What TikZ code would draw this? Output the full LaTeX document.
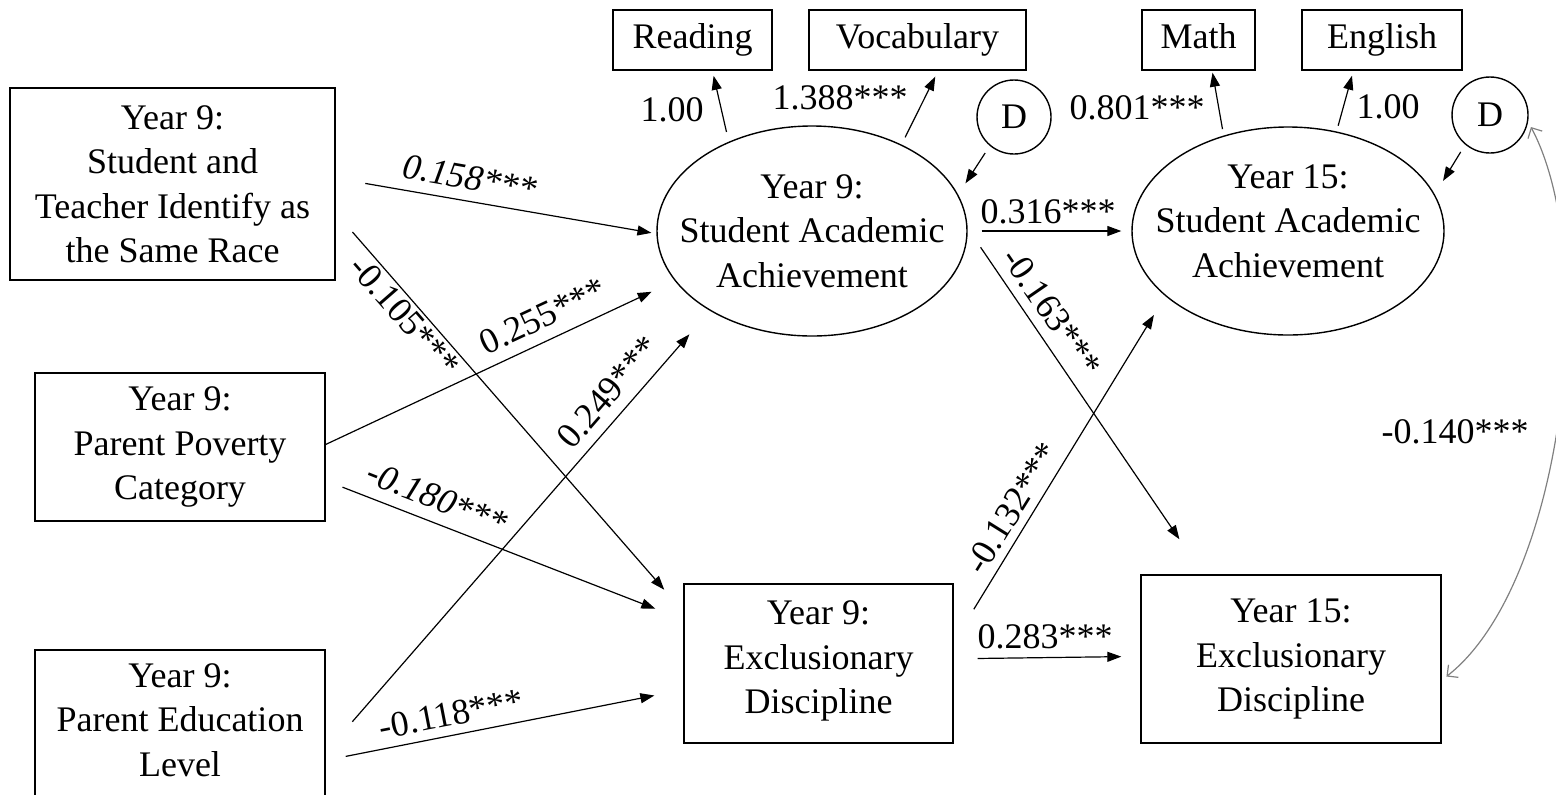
\documentclass[tikz,border=0pt]{standalone}
\usepackage{fontspec}
\setmainfont{Liberation Serif}
\usetikzlibrary{positioning, arrows.meta, shapes.geometric}

\begin{document}
\begin{tikzpicture}[x=0.5pt, y=-0.5pt,
  font=\fontsize{18}{22.25}\selectfont,
  ital/.style={font=\fontsize{18}{22.25}\selectfont\itshape},
  box/.style={draw, line width=0.7pt, align=center, inner sep=0pt},
  ind/.style={box, minimum height=30pt, text depth=4pt},
  latent/.style={draw, ellipse, line width=0.7pt, align=center, inner xsep=-12pt, inner ysep=0pt},
  err/.style={draw, circle, line width=0.7pt, inner sep=0pt, minimum size=37pt},
  arr/.style={-{Triangle[length=7pt,width=5pt]}, line width=0.6pt},
  coef/.style={inner sep=0pt},
  cov/.style={{Straight Barb[length=4pt]}-{Straight Barb[length=4pt]}, draw=gray, line width=0.6pt}]
\useasboundingbox (0,0) rectangle (1556,794);

% Year 9 predictors
\node[box, minimum width=162.5pt, minimum height=96pt] (race) at (172.5,184) {Year 9:\\Student and\\Teacher Identify as\\the Same Race};
\node[box, minimum width=145pt, minimum height=74pt] (pov) at (180,447) {Year 9:\\Parent Poverty\\Category};
\node[box, minimum width=145pt, minimum height=74pt, text depth=4pt] (edu) at (180,724) {Year 9:\\Parent Education\\Level};

% latent achievement factors
\node[latent, minimum width=155pt, minimum height=105pt] (ach9) at (812,231) {Year 9:\\Student Academic\\Achievement};
\node[latent, minimum width=156pt, minimum height=104pt, text depth=10pt] (ach15) at (1288,231) {Year 15:\\Student Academic\\Achievement};

% indicators and disturbances
\node[ind, minimum width=79.5pt] (read) at (692.5,40) {Reading};
\node[ind, minimum width=108.5pt] (vocab) at (917.5,40) {Vocabulary};
\node[ind, minimum width=56.5pt] (math) at (1198.5,40) {Math};
\node[ind, minimum width=80pt] (eng) at (1382,40) {English};
\node[err] (d9) at (1014,117) {D};
\node[err, minimum size=38pt] (d15) at (1490,115) {D};

% discipline outcomes
\node[box, minimum width=134.5pt, minimum height=79.5pt, text depth=6pt] (excl9) at (818.5,663.5) {Year 9:\\Exclusionary\\Discipline};
\node[box, minimum width=150pt, minimum height=84pt] (excl15) at (1291,659) {Year 15:\\Exclusionary\\Discipline};

% paths from the predictors
\draw[arr, shorten <=15pt, shorten >=2.5pt] (race.2) -- (ach9.181);
\draw[arr, shorten <=12.75pt, shorten >=14.5pt] (race.-10) -- (excl9.159);
\draw[arr, shorten >=12.75pt] (pov.1) -- (ach9.200);
\draw[arr, shorten <=9pt, shorten >=15pt] (pov.-13) -- (excl9.162);
\draw[arr, shorten <=20.3pt, shorten >=15.6pt] (edu.-11.5) -- (ach9.218);
\draw[arr, shorten <=10.2pt, shorten >=14.75pt] (edu.-14.6) -- (excl9.191);

% loadings
\draw[arr, shorten <=5pt, shorten >=2.6pt] (ach9.133) -- (read.-57);
\draw[arr, shorten <=4pt, shorten >=3.3pt] (ach9.44) -- (vocab.-56);
\draw[arr, shorten <=3.25pt, shorten >=1pt] (ach15.124.5) -- (math.-66.3);
\draw[arr, shorten <=3pt, shorten >=2.6pt] (ach15.64.5) -- (eng.-133.5);
\draw[arr, shorten <=4.25pt, shorten >=6.7pt] (d9.230) -- (ach9.14);
\draw[arr, shorten <=4.25pt, shorten >=7.9pt] (d15.230) -- (ach15.14.5);

% Year 9 to Year 15
\draw[arr, shorten <=7pt, shorten >=5pt] (ach9.east) -- (ach15.west);
\draw[arr, shorten <=11.5pt, shorten >=21.2pt] (ach9.1) -- (excl15.136);
\draw[arr, shorten <=19.25pt, shorten >=11pt] (excl9.9.5) -- (ach15.208);
\draw[arr, shorten <=12pt, shorten >=9.5pt] (excl9.2.8) -- (excl15.179.2);
\draw[cov, shorten <=3pt, shorten >=3pt] (excl15.-8) to[out=38, in=-62, looseness=0.7] (d15.-10);

% coefficients
\node[coef, ital, rotate=-10] (c158) at (470,178) {0.158***};
\node[coef, rotate=-49] (c105) at (405,316) {-0.105***};
\node[coef, rotate=25] (c255) at (543,316) {0.255***};
\node[coef, ital, rotate=-21.5] (c180) at (437,498) {-0.180***};
\node[coef, rotate=49] (c249) at (608,392) {0.249***};
\node[coef, rotate=11] (c118) at (451,714) {-0.118***};
\node[coef] (c100a) at (672,110) {1.00};
\node[coef] (c1388) at (840,98) {1.388***};
\node[coef] (c801) at (1137,108) {0.801***};
\node[coef] (c100b) at (1388,107) {1.00};
\node[coef] (c316) at (1048,212) {0.316***};
\node[coef, rotate=-55.5] (c163) at (1052,312) {-0.163***};
\node[coef, rotate=58] (c132) at (1012,508) {-0.132***};
\node[coef] (c283) at (1045,637) {0.283***};
\node[coef] (c140) at (1455,432) {-0.140***};
\end{tikzpicture}
\end{document}
